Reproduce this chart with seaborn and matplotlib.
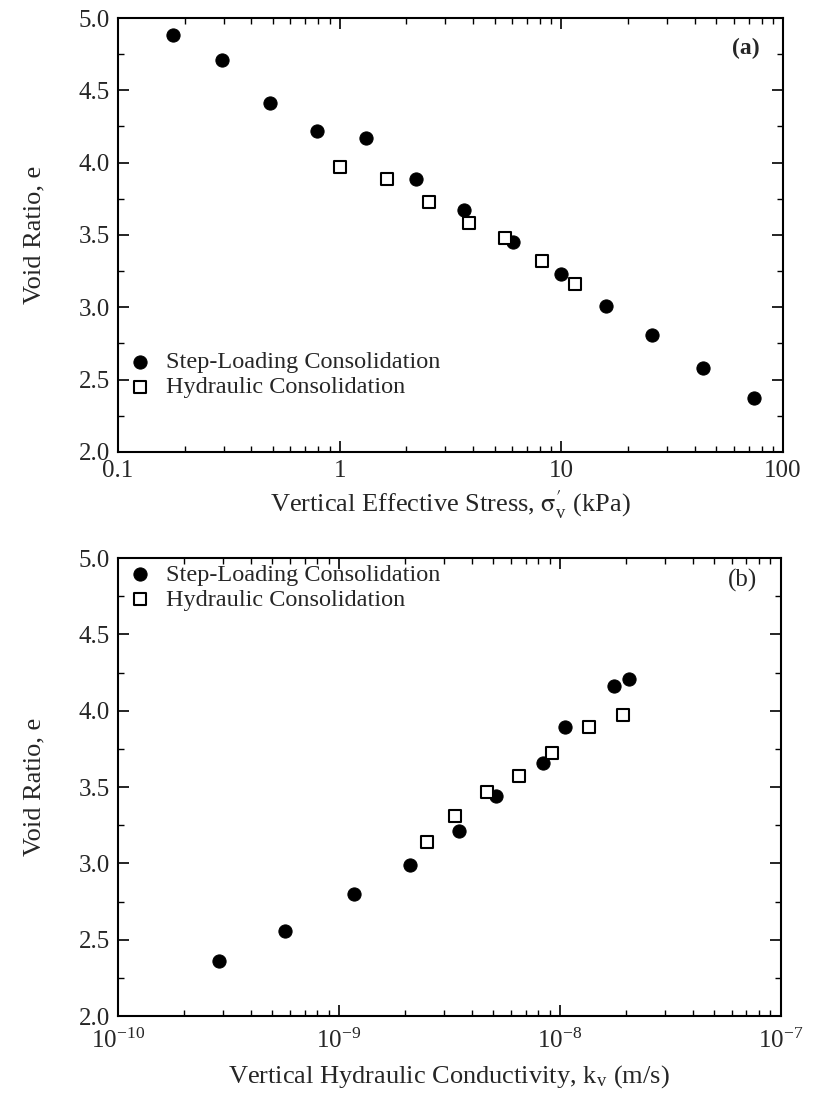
import numpy as np
import pandas as pd
import matplotlib
matplotlib.use("Agg")
import matplotlib.pyplot as plt
import seaborn as sns
from matplotlib.ticker import LogLocator, NullFormatter, MultipleLocator

# (a) e vs vertical effective stress
step_stress = [0.177, 0.296, 0.484, 0.789, 1.32, 2.20, 3.65, 6.03, 9.95, 15.9, 25.7, 43.7, 74.3]
step_e_a = [4.88, 4.71, 4.41, 4.22, 4.17, 3.89, 3.67, 3.45, 3.23, 3.01, 2.81, 2.58, 2.37]
hyd_stress = [1.0, 1.63, 2.54, 3.84, 5.59, 8.19, 11.5]
hyd_e_a = [3.97, 3.89, 3.73, 3.58, 3.48, 3.32, 3.16]

# (b) e vs vertical hydraulic conductivity
step_k = [2.86e-10, 5.70e-10, 1.17e-9, 2.10e-9, 3.49e-9, 5.17e-9, 8.43e-9, 1.06e-8, 1.76e-8, 2.06e-8]
step_e_b = [2.36, 2.56, 2.80, 2.99, 3.21, 3.44, 3.66, 3.89, 4.16, 4.21]
hyd_k = [2.51e-9, 3.36e-9, 4.70e-9, 6.52e-9, 9.25e-9, 1.35e-8, 1.94e-8]
hyd_e_b = [3.14, 3.31, 3.47, 3.57, 3.72, 3.89, 3.97]

sns.set_style("ticks")
plt.rcParams['font.family'] = ['Liberation Serif', 'DejaVu Serif']
plt.rcParams['mathtext.fontset'] = 'stix'

fig = plt.figure(figsize=(8.16, 11.05), dpi=100)
ax1 = fig.add_axes([0.1446, 0.591, 0.815, 0.3927])
ax2 = fig.add_axes([0.1446, 0.0805, 0.812, 0.4145])

def style(ax):
    ax.set_xscale('log')
    ax.set_ylim(2.0, 5.0)
    ax.yaxis.set_major_locator(MultipleLocator(0.5))
    ax.yaxis.set_minor_locator(MultipleLocator(0.25))
    ax.xaxis.set_minor_locator(LogLocator(base=10, subs=np.arange(2, 10), numticks=20))
    ax.xaxis.set_minor_formatter(NullFormatter())
    ax.tick_params(which='both', direction='in', top=True, right=True, color='black')
    ax.tick_params(which='major', length=8, width=1.2, labelsize=18)
    ax.tick_params(which='minor', length=4, width=1.0)
    ax.tick_params(axis='x', which='major', pad=6)
    ax.tick_params(axis='y', which='major', pad=6)
    for s in ax.spines.values():
        s.set_linewidth(1.5)
        s.set_color('black')
    ax.set_ylabel("Void Ratio, e", fontsize=19, labelpad=24)
    ax.set_yticks([2.0, 2.5, 3.0, 3.5, 4.0, 4.5, 5.0],
                  labels=["2.0", "2.5", "3.0", "3.5", "4.0", "4.5", "5.0"])

df_sa = pd.DataFrame({"x": step_stress, "e": step_e_a})
df_ha = pd.DataFrame({"x": hyd_stress, "e": hyd_e_a})
sns.scatterplot(data=df_sa, x="x", y="e", ax=ax1, marker='o', s=90, color='black',
                edgecolor='black', label="Step-Loading Consolidation")
sns.scatterplot(data=df_ha, x="x", y="e", ax=ax1, marker='s', s=80, facecolor='white',
                edgecolor='black', linewidth=1.5, label="Hydraulic Consolidation")
style(ax1)
ax1.set_xlim(0.1, 100)
ax1.set_xticks([0.1, 1, 10, 100], labels=["0.1", "1", "10", "100"])
ax1.set_xlabel(r"Vertical Effective Stress, $\mathrm{\sigma}^{\prime}_{\mathregular{v}}$ (kPa)",
               fontsize=19, labelpad=4)
ax1.text(0.965, 0.93, "(a)", transform=ax1.transAxes, ha='right', va='center',
         fontsize=17, fontweight='bold')
ax1.legend(loc='lower left', bbox_to_anchor=(-0.015, 0.085), frameon=False, fontsize=17.5,
           handletextpad=0.5, borderaxespad=0.3, labelspacing=0.12, handlelength=1.2)

df_sb = pd.DataFrame({"x": step_k, "e": step_e_b})
df_hb = pd.DataFrame({"x": hyd_k, "e": hyd_e_b})
sns.scatterplot(data=df_sb, x="x", y="e", ax=ax2, marker='o', s=90, color='black',
                edgecolor='black', label="Step-Loading Consolidation")
sns.scatterplot(data=df_hb, x="x", y="e", ax=ax2, marker='s', s=80, facecolor='white',
                edgecolor='black', linewidth=1.5, label="Hydraulic Consolidation")
style(ax2)
ax2.tick_params(axis='x', which='major', pad=9)
ax2.set_xlim(1e-10, 1e-7)
ax2.set_xticks([1e-10, 1e-9, 1e-8, 1e-7],
               labels=[r"10$^{\mathregular{-10}}$", r"10$^{\mathregular{-9}}$",
                       r"10$^{\mathregular{-8}}$", r"10$^{\mathregular{-7}}$"])
ax2.set_xlabel(r"Vertical Hydraulic Conductivity, k$_{\mathregular{v}}$ (m/s)", fontsize=19, labelpad=7)
ax2.text(0.965, 0.95, "(b)", transform=ax2.transAxes, ha='right', va='center', fontsize=18)
ax2.legend(loc='upper left', bbox_to_anchor=(-0.015, 1.025), frameon=False, fontsize=17.5,
           handletextpad=0.5, borderaxespad=0.3, labelspacing=0.12, handlelength=1.2)

fig.savefig("out.png", dpi=100)
